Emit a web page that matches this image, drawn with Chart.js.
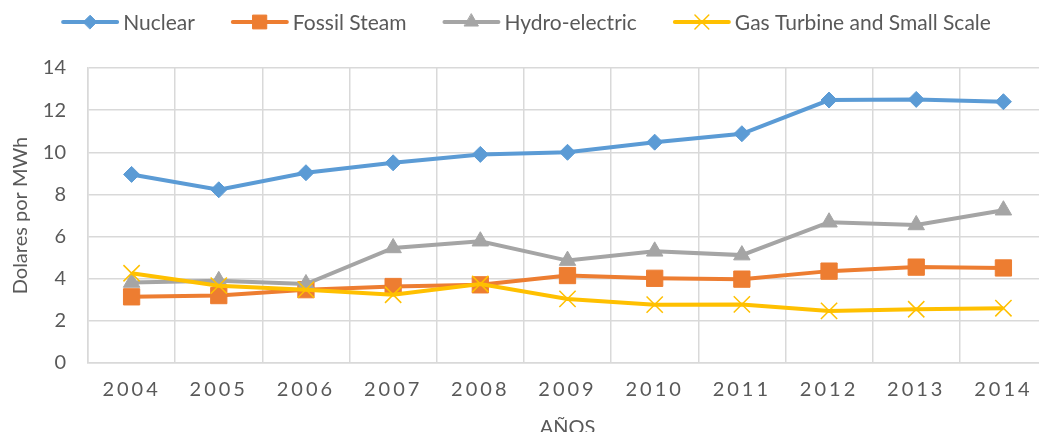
<!DOCTYPE html>
<html lang="es">
<head>
    <meta charset="UTF-8">
    <title>Dolares por MWh</title>
    <script src="https://cdn.jsdelivr.net/npm/chart.js"></script>
    <style>
        html, body { margin: 0; padding: 0; background: #fff; overflow: hidden; }
        #wrap { position: relative; width: 1060px; height: 440px; }
    </style>
</head>
<body>
    <div id="wrap"><canvas id="costChart"></canvas></div>

    <script>
        // datos
        const years = ['2004', '2005', '2006', '2007', '2008', '2009', '2010', '2011', '2012', '2013', '2014'];
        const nuclear = [8.95, 8.22, 9.03, 9.5, 9.9, 10.0, 10.48, 10.88, 12.48, 12.51, 12.4];
        const fossilSteam = [3.14, 3.2, 3.48, 3.63, 3.71, 4.15, 4.02, 3.98, 4.36, 4.55, 4.51];
        const hydro = [3.82, 3.9, 3.75, 5.46, 5.78, 4.86, 5.3, 5.12, 6.68, 6.55, 7.25];
        const gasTurbine = [4.26, 3.67, 3.48, 3.24, 3.75, 3.04, 2.77, 2.78, 2.47, 2.55, 2.6];
        const yTicks = [0, 2, 4, 6, 8, 10, 12, 14];

        const textColor = '#595959';
        const gridColor = '#d9d9d9';
        const fontFamily = 'Lato, "Open Sans", sans-serif';

        function series(label, data, color, style, radius, order) {
            return {
                label: label,
                data: data,
                borderColor: color,
                backgroundColor: color,
                borderWidth: 4,
                tension: 0,
                pointStyle: style,
                pointRadius: radius,
                pointHoverRadius: radius,
                pointBorderWidth: style === 'crossRot' ? 1.5 : 1,
                pointBorderColor: color,
                pointBackgroundColor: color,
                order: order
            };
        }

        // leyenda: linea con marcador, como en Excel
        const lineLegend = {
            id: 'lineLegend',
            afterDraw(chart) {
                const ctx = chart.ctx;
                const sw = 54, gapText = 6, gapItem = 38, y = 22, center = 527;
                ctx.save();
                ctx.font = '21px ' + fontFamily;
                const items = chart.data.datasets.map(ds => ({
                    ds: ds,
                    w: sw + gapText + ctx.measureText(ds.label).width
                }));
                const total = items.reduce((a, b) => a + b.w, 0) + gapItem * (items.length - 1);
                let x = center - total / 2;
                items.forEach(it => {
                    const ds = it.ds;
                    ctx.strokeStyle = ds.borderColor;
                    ctx.lineWidth = 4;
                    ctx.lineCap = 'round';
                    ctx.beginPath();
                    ctx.moveTo(x, y);
                    ctx.lineTo(x + sw, y);
                    ctx.stroke();
                    ctx.fillStyle = ds.backgroundColor;
                    ctx.lineWidth = ds.pointBorderWidth;
                    Chart.helpers.drawPoint(ctx, {
                        pointStyle: ds.pointStyle,
                        radius: ds.pointRadius * 0.85,
                        borderWidth: ds.pointBorderWidth,
                        rotation: 0
                    }, x + sw / 2, y);
                    ctx.fillStyle = textColor;
                    ctx.textBaseline = 'middle';
                    ctx.textAlign = 'left';
                    ctx.fillText(ds.label, x + sw + gapText, y + 1);
                    x += it.w + gapItem;
                });
                ctx.restore();
            }
        };

        // espaciado entre digitos de los anios
        const spacedYears = {
            id: 'spacedYears',
            beforeDraw(chart) {
                const s = chart.scales.x;
                if (s.__spaced) return;
                const orig = s.drawLabels;
                s.drawLabels = function (area) {
                    this.ctx.save();
                    this.ctx.letterSpacing = '3px';
                    orig.call(this, area);
                    this.ctx.restore();
                };
                s.__spaced = true;
            }
        };

        new Chart(document.getElementById('costChart'), {
            type: 'line',
            data: {
                labels: years,
                datasets: [
                    series('Nuclear', nuclear, '#5b9bd5', 'rectRot', 8, 3),
                    series('Fossil Steam', fossilSteam, '#ed7d31', 'rect', 11.5, 2),
                    series('Hydro-electric', hydro, '#a5a5a5', 'triangle', 9.5, 1),
                    series('Gas Turbine and Small Scale', gasTurbine, '#ffc000', 'crossRot', 11.5, 0)
                ]
            },
            options: {
                responsive: true,
                maintainAspectRatio: false,
                animation: false,
                layout: { padding: { top: 68, right: 7, left: 0, bottom: 0 } },
                plugins: {
                    legend: { display: false },
                    tooltip: { enabled: false }
                },
                scales: {
                    x: {
                        offset: true,
                        grid: { offset: true, color: gridColor, lineWidth: 1.5, drawTicks: false },
                        border: { color: gridColor, width: 1.5 },
                        ticks: { color: textColor, padding: 15, font: { family: fontFamily, size: 20 } },
                        title: {
                            display: true,
                            text: 'AÑOS',
                            color: textColor,
                            padding: { top: 6, bottom: 0 },
                            font: { family: fontFamily, size: 20 }
                        },
                        afterFit(scale) { scale.height = 77; }
                    },
                    y: {
                        min: 0,
                        max: 14,
                        afterBuildTicks(scale) { scale.ticks = yTicks.map(v => ({ value: v })); },
                        grid: { color: gridColor, lineWidth: 1.5, drawTicks: false },
                        border: { color: gridColor, width: 1.5 },
                        ticks: { color: textColor, padding: 22, font: { family: fontFamily, size: 20 } },
                        title: {
                            display: true,
                            text: 'Dolares por MWh',
                            color: textColor,
                            padding: { top: 9, bottom: 0 },
                            font: { family: fontFamily, size: 20 }
                        },
                        afterFit(scale) { scale.width = 88; }
                    }
                }
            },
            plugins: [lineLegend, spacedYears]
        });
    </script>
</body>
</html>
